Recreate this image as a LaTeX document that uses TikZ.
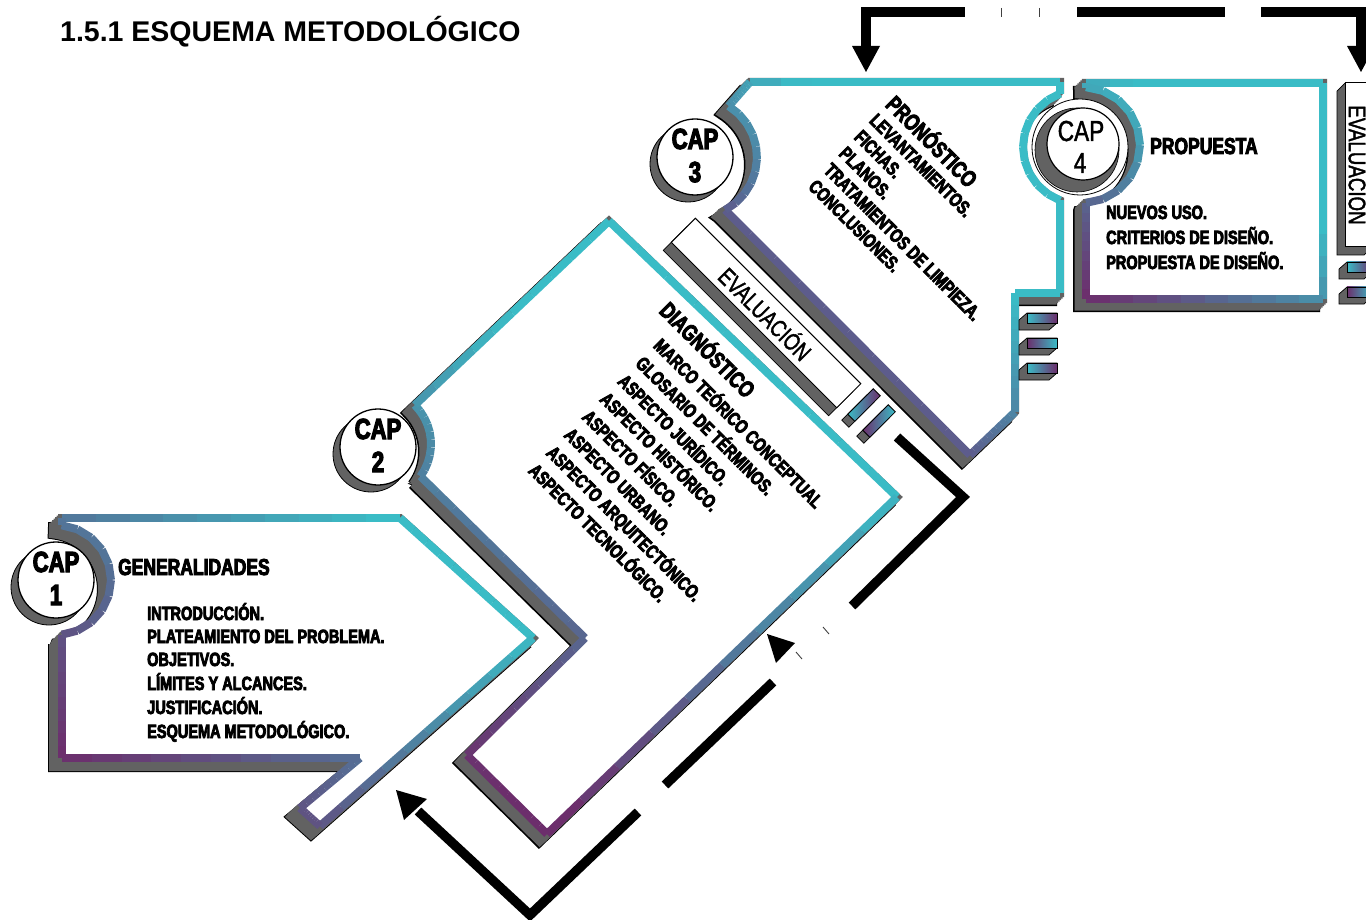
\documentclass[tikz,border=0pt]{standalone}
\usepackage{fontspec}
\setmainfont{Liberation Sans}
\newfontfamily\hv{Liberation Sans Bold}[FakeStretch=0.76,FakeBold=4]
\newfontfamily\nar{Liberation Sans}[FakeStretch=0.78,FakeBold=1.5]
\definecolor{cyanC}{RGB}{58,188,198}
\definecolor{purpC}{RGB}{108,46,108}
\definecolor{midP}{RGB}{94,88,138}
\definecolor{hatchC}{RGB}{98,98,98}
\colorlet{gbase}{purpC}

% gradient helpers: origin (purple end), unit direction, length
\newcommand\gsetup[5]{\def\gox{#1}\def\goy{#2}\def\gux{#3}\def\guy{#4}\def\glen{#5}}
\newcommand\gcol[2]{\pgfmathtruncatemacro\gtt{max(0,min(100,100*((((#1)-\gox)*\gux+((#2)-\goy)*\guy)/\glen)))}}
\newcommand\gseg[4]{%
  \foreach \gi in {0,...,9}{%
    \pgfmathsetmacro\sxa{#1+(#3-(#1))*\gi/10}%
    \pgfmathsetmacro\sya{#2+(#4-(#2))*\gi/10}%
    \pgfmathsetmacro\sxb{#1+(#3-(#1))*(\gi+1)/10}%
    \pgfmathsetmacro\syb{#2+(#4-(#2))*(\gi+1)/10}%
    \gcol{(\sxa+\sxb)/2}{(\sya+\syb)/2}%
    \draw[band, draw=cyanC!\gtt!gbase] (\sxa,\sya) -- (\sxb,\syb);
  }}
\newcommand\garc[5]{%
  \foreach \gi in {0,...,9}{%
    \pgfmathsetmacro\gaA{#4+(#5-(#4))*\gi/10}%
    \pgfmathsetmacro\gaB{#4+(#5-(#4))*(\gi+1)/10}%
    \pgfmathsetmacro\gaM{(\gaA+\gaB)/2}%
    \pgfmathsetmacro\gpx{#1+#3*cos(\gaM)}%
    \pgfmathsetmacro\gpy{#2+#3*sin(\gaM)}%
    \gcol{\gpx}{\gpy}%
    \draw[band, draw=cyanC!\gtt!gbase] ({#1+#3*cos(\gaA)},{#2+#3*sin(\gaA)}) -- ({#1+#3*cos(\gaB)},{#2+#3*sin(\gaB)});
  }}

% box outlines (centre line of the coloured band)
\newcommand\pathA[1]{\path[#1] (62,518) -- (400,518) -- (533,638) -- (320,826) -- (300,808) -- (360,758) -- (62,758) -- (62,635) -- plot[domain=84:-84,samples=30] ({56+55*cos(\x)},{580+55*sin(\x)}) -- cycle;}
\newcommand\pathB[1]{\path[#1] (609,221) -- (897,497) -- (547,834) -- (467,755) -- (585,638) -- (420.5,476.3) -- plot[domain=36:-45,samples=25] ({376+55*cos(\x)},{444+55*sin(\x)}) -- cycle;}
\newcommand\pathC[1]{\path[#1] (750,82) -- (1060,82) -- (1060,93.6) -- plot[domain=249.5:110.5,samples=30] ({1080+57*cos(\x)},{147+57*sin(\x)}) -- (1060,293) -- (1015,293) -- (1015,412) -- (970,455) -- (725.2,210) -- plot[domain=62:-58,samples=30] ({697+60*cos(\x)},{157+60*sin(\x)}) -- cycle;}
\newcommand\pathD[1]{\path[#1] (1086,83) -- (1323,83) -- (1323,299) -- (1086,299) -- (1086,203) -- plot[domain=86:-86,samples=30] ({1082+58*cos(\x)},{145+58*sin(\x)}) -- cycle;}

\newcommand\extr[2]{%
  #1{fill=hatchC, draw=black, line width=10pt, line join=miter, miter limit=2, shift={(-#2,#2)}}%
  \foreach \sh in {0,1.5,...,#2}{#1{fill=hatchC, draw=hatchC, line width=8pt, line join=miter, miter limit=2, shift={(-\sh,\sh)}}}%
}
\newcommand\capcircle[4]{% name cx cy number
  \fill[hatchC, draw=black, line width=0.8pt] (#2-7,#3+7) circle[radius=38];
  \node[circle, minimum size=76pt, inner sep=0pt, fill=white, draw=black, line width=1.3pt] (#1) at (#2,#3) {};
  \node[captext] (#1t) at (#2,#3-8) {CAP};
  \node[captext] (#1n) at (#2,#3+25) {#4};
}

\tikzset{
  band/.style={line width=8pt, line cap=square},
  hatchbox/.style={fill=hatchC, draw=black, line width=0.7pt},
  arrowline/.style={draw=black, line width=9.5pt, line cap=butt, line join=miter},
  tickline/.style={draw=black!75, line width=0.9pt},
  itemtext/.style={font=\hv\fontsize{19.1}{20}\selectfont, inner sep=0pt, anchor=base west},
  headtext/.style={font=\hv\fontsize{23}{24}\selectfont, inner sep=0pt, anchor=base west},
  captext/.style={font=\hv\fontsize{29}{30}\selectfont, inner sep=0pt, anchor=base},
  capreg/.style={font=\nar\fontsize{29}{30}\selectfont, inner sep=0pt, anchor=base},
  evaltext/.style={font=\nar\fontsize{24}{26}\selectfont, inner sep=0pt},
  titletext/.style={font=\bfseries\fontsize{28.5}{30}\selectfont, inner sep=0pt, anchor=base west},
}

\begin{document}
\begin{tikzpicture}[x=1pt,y=-1pt]
\useasboundingbox (0,0) rectangle (1366,920);
\fill[white] (0,0) rectangle (1366,920);

\node[titletext] (title) at (60,42) {1.5.1 ESQUEMA METODOLÓGICO};

% ---------- box 2 ----------
\extr{\pathB}{8}
\pathB{fill=white}
\colorlet{gbase}{purpC}
\gsetup{520}{800}{0.41}{-0.912}{438}
\gseg{609}{221}{897}{497}
\gseg{897}{497}{547}{834}
\gseg{547}{834}{467}{755}
\gseg{467}{755}{585}{638}
\gseg{585}{638}{420.5}{476.3}
\garc{376}{444}{55}{36}{-45}
\gseg{414.9}{405.1}{609}{221}

% ---------- box 1 ----------
\extr{\pathA}{9}
\pathA{fill=white}
\gsetup{62}{758}{0.6}{-0.8}{380}
\gseg{62}{518}{400}{518}
\gseg{400}{518}{533}{638}
\gseg{533}{638}{320}{826}
\gseg{320}{826}{300}{808}
\gseg{300}{808}{360}{758}
\gseg{360}{758}{62}{758}
\gseg{62}{758}{62}{635}
\garc{56}{580}{55}{84}{-84}
\gseg{62}{525}{62}{518}

% ---------- box 3 ----------
\extr{\pathC}{8}
\pathC{fill=white}
\colorlet{gbase}{midP}
\gsetup{835}{330}{0.707}{-0.707}{150}
\gseg{750}{82}{1060}{82}
\gseg{1060}{82}{1060}{93.6}
\garc{1080}{147}{57}{249.5}{110.5}
\gseg{1060}{200.4}{1060}{293}
\gseg{1060}{293}{1015}{293}
\gseg{1015}{293}{1015}{412}
\gseg{1015}{412}{970}{455}
\gseg{970}{455}{725.2}{210}
\garc{697}{157}{60}{62}{-58}
\gseg{728.8}{106.1}{750}{82}

% ---------- box 4 ----------
\extr{\pathD}{8}
\pathD{fill=white}
\colorlet{gbase}{purpC}
\gsetup{1086}{299}{0.6}{-0.8}{200}
\gseg{1086}{83}{1323}{83}
\gseg{1323}{83}{1323}{299}
\gseg{1323}{299}{1086}{299}
\gseg{1086}{299}{1086}{203}
\garc{1082}{145}{58}{86}{-86}
\gseg{1086}{87}{1086}{83}

% ---------- diagonal evaluation bar ----------
\begin{scope}[shift={(758,321)}, rotate=-45]
  \path[hatchbox] (-117,-17) rectangle (117,17);
\end{scope}
\begin{scope}[shift={(766,313)}, rotate=-45]
  \path[fill=white, draw=black, line width=1pt] (-117,-17) rectangle (117,17);
\end{scope}
\node[evaltext, rotate=-45] (evd) at (766,313) {EVALUACIÓN};
\foreach \cx/\cy/\ca/\cb in {864/405/cyanC/purpC, 879/421/purpC/cyanC}{
  \begin{scope}[shift={(\cx-6,\cy+6)}, rotate=45]
    \path[hatchbox] (-18,-5) rectangle (18,5);
  \end{scope}
  \begin{scope}[shift={(\cx,\cy)}, rotate=45]
    \shadedraw[left color=\ca, right color=\cb, draw=black, line width=0.8pt] (-18,-5) rectangle (18,5);
  \end{scope}
}

% ---------- small bars of box 3 ----------
\foreach \yy/\ca/\cb in {313/cyanC/purpC, 338/purpC/cyanC, 363/cyanC/purpC}{
  \path[hatchbox] (1027,\yy) -- (1057,\yy) -- (1057,\yy+10) -- (1049,\yy+17) -- (1019,\yy+17) -- (1019,\yy+7) -- cycle;
  \shadedraw[left color=\ca, right color=\cb, draw=black, line width=0.8pt] (1027,\yy) rectangle (1057,\yy+10);
}

% ---------- right evaluation bar ----------
\path[hatchbox] (1345,83) -- (1372,83) -- (1372,247) -- (1364,255) -- (1337,255) -- (1337,91) -- cycle;
\path[fill=white, draw=black, line width=1pt] (1345,83) rectangle (1372,247);
\node[evaltext, rotate=-90] (evr) at (1357,165) {EVALUACION};
\foreach \yy/\ca/\cb in {262/cyanC/purpC, 287/purpC/cyanC}{
  \path[hatchbox] (1347,\yy) -- (1372,\yy) -- (1372,\yy+10) -- (1364,\yy+17) -- (1339,\yy+17) -- (1339,\yy+7) -- cycle;
  \shadedraw[left color=\ca, right color=\cb, draw=black, line width=0.8pt] (1347,\yy) rectangle (1372,\yy+10);
}

% ---------- CAP circles ----------
\capcircle{cap1}{56}{580}{1}
\capcircle{cap2}{378}{447}{2}
\capcircle{cap3}{695}{157}{3}
\path[fill=white, draw=black, line width=0.8pt] (1080,147) circle[radius=48];
\path[fill=hatchC, draw=black, line width=0.6pt] (1077,150) circle[radius=42];
\node[circle, minimum size=72pt, inner sep=0pt, fill=white, draw=black, line width=1.2pt] (cap4) at (1083,144) {};
\node[capreg] (cap4t) at (1081,141) {CAP};
\node[capreg] (cap4n) at (1080,173) {4};

% ---------- texts ----------
\node[headtext] (gen) at (118,575) {GENERALIDADES};
\node[itemtext] (g1) at (147,620) {INTRODUCCIÓN.};
\node[itemtext] (g2) at (147,643) {PLATEAMIENTO DEL PROBLEMA.};
\node[itemtext] (g3) at (147,666) {OBJETIVOS.};
\node[itemtext] (g4) at (147,690) {LÍMITES Y ALCANCES.};
\node[itemtext] (g5) at (147,714) {JUSTIFICACIÓN.};
\node[itemtext] (g6) at (147,738) {ESQUEMA METODOLÓGICO.};

\node[headtext, rotate=-45] (dia) at (658,312) {DIAGNÓSTICO};
\node[itemtext, rotate=-45] (d1) at (652.3,346.7) {MARCO TEÓRICO CONCEPTUAL};
\node[itemtext, rotate=-45] (d2) at (634.4,364.6) {GLOSARIO DE TÉRMINOS.};
\node[itemtext, rotate=-45] (d3) at (616.6,382.4) {ASPECTO JURÍDICO.};
\node[itemtext, rotate=-45] (d4) at (598.7,400.3) {ASPECTO HISTÓRICO.};
\node[itemtext, rotate=-45] (d5) at (580.9,418.1) {ASPECTO FÍSICO.};
\node[itemtext, rotate=-45] (d6) at (563.0,436.0) {ASPECTO URBANO.};
\node[itemtext, rotate=-45] (d7) at (545.1,453.9) {ASPECTO ARQUITECTÓNICO.};
\node[itemtext, rotate=-45] (d8) at (527.3,471.7) {ASPECTO TECNOLÓGICO.};

\node[headtext, rotate=-45] (pro) at (884.3,105.7) {PRONÓSTICO};
\node[itemtext, rotate=-45] (p1) at (868.3,121.7) {LEVANTAMIENTOS.};
\node[itemtext, rotate=-45] (p2) at (853.1,138.2) {FICHAS.};
\node[itemtext, rotate=-45] (p3) at (837.8,154.7) {PLANOS.};
\node[itemtext, rotate=-45] (p4) at (822.6,171.2) {TRATAMIENTOS DE LIMPIEZA.};
\node[itemtext, rotate=-45] (p5) at (807.3,187.7) {CONCLUSIONES.};

\node[headtext] (prop) at (1150,154) {PROPUESTA};
\node[itemtext] (q1) at (1106,219) {NUEVOS USO.};
\node[itemtext] (q2) at (1106,244) {CRITERIOS DE DISEÑO.};
\node[itemtext] (q3) at (1106,269) {PROPUESTA DE DISEÑO.};

% ---------- arrows ----------
\coordinate (ta0) at (866,46);  \coordinate (ta1) at (866,12);  \coordinate (ta2) at (965,12);
\coordinate (tb0) at (1077,12); \coordinate (tb1) at (1225,12);
\coordinate (tc0) at (1261,12); \coordinate (tc1) at (1361,12); \coordinate (tc2) at (1361,46);
\draw[arrowline] (ta0) -- (ta1) -- (ta2);
\draw[arrowline] (tb0) -- (tb1);
\draw[arrowline] (tc0) -- (tc1) -- (tc2);
\draw[tickline] (1001,8) -- (1001,17);
\draw[tickline] (1039,8) -- (1039,17);
\fill[black] (852,46) -- (880,46) -- (866,72) -- cycle;
\fill[black] (1347,46) -- (1375,46) -- (1361,72) -- cycle;

\coordinate (ra0) at (897,437); \coordinate (ra1) at (963,497); \coordinate (ra2) at (852,606);
\coordinate (rb0) at (773,682); \coordinate (rb1) at (665,785);
\coordinate (rc0) at (638,812); \coordinate (rc1) at (530,915); \coordinate (rc2) at (418,811);
\draw[arrowline] (ra0) -- (ra1) -- (ra2);
\draw[arrowline] (rb0) -- (rb1);
\draw[arrowline] (rc0) -- (rc1) -- (rc2);
\draw[tickline] (823,627) -- (829,634);
\draw[tickline] (796,652) -- (802,659);
\fill[black] (767,634) -- (795,643) -- (776,663) -- cycle;
\fill[black] (396,790) -- (427,799) -- (404,820) -- cycle;
\end{tikzpicture}
\end{document}
